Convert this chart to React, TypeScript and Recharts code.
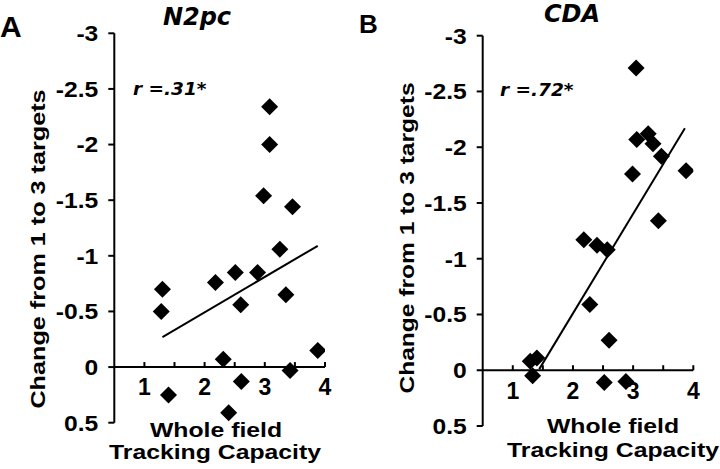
import { ReferenceDot, ReferenceLine, Scatter, ScatterChart, XAxis, YAxis } from 'recharts';

const yTicks = [-3, -2.5, -2, -1.5, -1, -0.5, 0, 0.5];
const xMinorTicks = [1, 1.5, 2, 2.5, 3, 3.5, 4];
const xLabelTicks = [1, 2, 3, 4];

// panel A: N2pc change vs tracking capacity
const n2pcPoints = [
  { x: 1.3, y: -0.7 },
  { x: 1.28, y: -0.5 },
  { x: 1.4, y: 0.25 },
  { x: 2.18, y: -0.76 },
  { x: 2.31, y: -0.07 },
  { x: 2.4, y: 0.41 },
  { x: 2.51, y: -0.85 },
  { x: 2.6, y: -0.56 },
  { x: 2.61, y: 0.13 },
  { x: 2.88, y: -0.85 },
  { x: 2.98, y: -1.54 },
  { x: 3.08, y: -2.0 },
  { x: 3.08, y: -2.34 },
  { x: 3.25, y: -1.06 },
  { x: 3.35, y: -0.65 },
  { x: 3.46, y: -1.44 },
  { x: 3.42, y: 0.03 },
  { x: 3.88, y: -0.15 },
];
const n2pcTrend = [
  { x: 1.3, y: -0.27 },
  { x: 3.88, y: -1.09 },
];

// panel B: CDA change vs tracking capacity
const cdaPoints = [
  { x: 3.05, y: -2.71 },
  { x: 3.06, y: -2.07 },
  { x: 3.25, y: -2.12 },
  { x: 3.33, y: -2.03 },
  { x: 3.47, y: -1.92 },
  { x: 2.99, y: -1.76 },
  { x: 3.88, y: -1.79 },
  { x: 3.42, y: -1.34 },
  { x: 2.18, y: -1.17 },
  { x: 2.4, y: -1.12 },
  { x: 2.57, y: -1.08 },
  { x: 2.28, y: -0.59 },
  { x: 2.6, y: -0.27 },
  { x: 1.29, y: -0.08 },
  { x: 1.4, y: -0.11 },
  { x: 1.33, y: 0.05 },
  { x: 2.52, y: 0.11 },
  { x: 2.88, y: 0.1 },
];
const cdaTrend = [
  { x: 1.44, y: -0.01 },
  { x: 3.86, y: -2.17 },
];

const ARIAL = "'Liberation Sans', Arial, sans-serif";
const VERDANA = "'DejaVu Sans', Verdana, sans-serif";

function Diamond(props: any) {
  const { cx, cy } = props;
  const r = 8.5;
  return <path d={`M${cx},${cy - r}L${cx + r},${cy}L${cx},${cy + r}L${cx - r},${cy}Z`} fill="#000" />;
}

function YTick({ x, y, payload }: any) {
  return (
    <g transform={`translate(${x},${y})`}>
      <text
        transform="scale(1.12,1)"
        textAnchor="end"
        dy="0.36em"
        fontSize={22}
        fontWeight="bold"
        fontFamily={ARIAL}
        fill="#000"
      >
        {payload.value}
      </text>
    </g>
  );
}

type PanelProps = {
  points: { x: number; y: number }[];
  trend: { x: number; y: number }[];
  margin: { top: number; right: number; bottom: number; left: number };
  yWidth: number;
};

function Panel({ points, trend, margin, yWidth }: PanelProps) {
  return (
    <ScatterChart width={360} height={469} margin={margin}>
      <XAxis type="number" dataKey="x" domain={[0.5, 4]} allowDataOverflow hide />
      <YAxis
        type="number"
        dataKey="y"
        domain={[-3, 0.5]}
        ticks={yTicks}
        reversed
        allowDataOverflow
        width={yWidth}
        tickSize={6}
        tickMargin={10}
        axisLine={{ stroke: '#000', strokeWidth: 2 }}
        tickLine={{ stroke: '#000', strokeWidth: 2 }}
        tick={<YTick />}
        interval={0}
      />
      <ReferenceLine y={0} stroke="#000" strokeWidth={2} />
      {xMinorTicks.map((t) => (
        <ReferenceLine
          key={`tk${t}`}
          segment={[
            { x: t, y: 0 },
            { x: t, y: -0.045 },
          ]}
          stroke="#000"
          strokeWidth={2}
        />
      ))}
      {xLabelTicks.map((t) => (
        <ReferenceDot
          key={`lb${t}`}
          x={t}
          y={0}
          r={0}
          stroke="none"
          label={{
            value: String(t),
            position: 'bottom',
            offset: 12,
            fontSize: 23,
            fontWeight: 'bold',
            fontFamily: ARIAL,
            fill: '#000',
          }}
        />
      ))}
      <ReferenceLine
        segment={[trend[0], trend[1]]}
        stroke="#000"
        strokeWidth={2}
      />
      <Scatter data={points} shape={Diamond} isAnimationActive={false} />
    </ScatterChart>
  );
}

export default function App() {
  const textProps = { fontFamily: ARIAL, fontWeight: 'bold' as const, fill: '#000' };
  return (
    <div style={{ position: 'absolute', left: 0, top: 0, width: 720, height: 469, background: '#fff' }}>
      <div style={{ position: 'absolute', left: 0, top: 0 }}>
        <Panel
          points={n2pcPoints}
          trend={n2pcTrend}
          margin={{ top: 33.3, right: 35, bottom: 46.3, left: 0 }}
          yWidth={114.3}
        />
      </div>
      <div style={{ position: 'absolute', left: 360, top: 0 }}>
        <Panel
          points={cdaPoints}
          trend={cdaTrend}
          margin={{ top: 35.7, right: 26.7, bottom: 43, left: 0 }}
          yWidth={122.7}
        />
      </div>
      <svg
        width={720}
        height={469}
        style={{ position: 'absolute', left: 0, top: 0, pointerEvents: 'none' }}
      >
        {/* panel letters */}
        <text x={0} y={37} fontSize={30} {...textProps}>A</text>
        <text x={359} y={33} fontSize={26} {...textProps}>B</text>

        {/* titles */}
        <text x={197} y={25} textAnchor="middle" fontSize={24} fontWeight="bold" fontStyle="italic" fontFamily={VERDANA}>
          N2pc
        </text>
        <text x={572} y={22} textAnchor="middle" fontSize={24} fontWeight="bold" fontStyle="italic" fontFamily={VERDANA}>
          CDA
        </text>

        {/* correlation annotations */}
        <text x={133} y={95} fontSize={18.5} fontWeight="bold" fontStyle="italic" fontFamily={VERDANA}>
          r =.31*
        </text>
        <text x={500} y={96} fontSize={18.5} fontWeight="bold" fontStyle="italic" fontFamily={VERDANA}>
          r =.72*
        </text>

        {/* y axis titles */}
        <text transform="translate(37,249) rotate(-90) scale(1.2,1)" textAnchor="middle" dy="0.36em" fontSize={21} {...textProps}>
          Change from 1 to 3 targets
        </text>
        <text transform="translate(406,238) rotate(-90) scale(1.17,1)" textAnchor="middle" dy="0.36em" fontSize={21} {...textProps}>
          Change from 1 to 3 targets
        </text>

        {/* x axis titles */}
        <text transform="translate(216,437) scale(1.18,1)" textAnchor="middle" fontSize={21} {...textProps}>
          Whole field
        </text>
        <text transform="translate(215,459) scale(1.18,1)" textAnchor="middle" fontSize={21} {...textProps}>
          Tracking Capacity
        </text>
        <text transform="translate(613,433) scale(1.18,1)" textAnchor="middle" fontSize={21} {...textProps}>
          Whole field
        </text>
        <text transform="translate(613,457) scale(1.18,1)" textAnchor="middle" fontSize={21} {...textProps}>
          Tracking Capacity
        </text>
      </svg>
    </div>
  );
}
